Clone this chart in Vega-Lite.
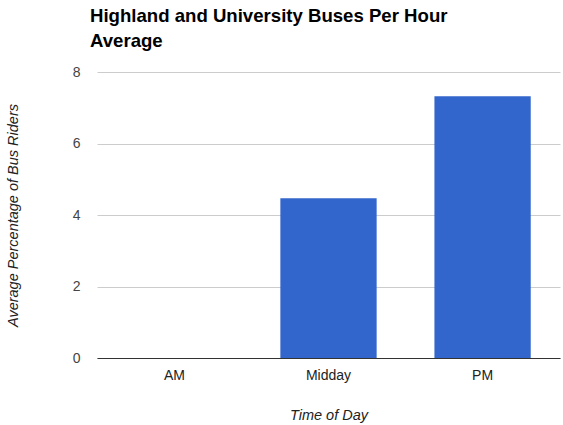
{
  "$schema": "https://vega.github.io/schema/vega-lite/v6.json",
  "autosize": "none",
  "width": 463,
  "height": 286,
  "padding": {"left": 97, "top": 72, "right": 3, "bottom": 67},
  "background": "white",
  "title": {
    "text": ["Highland and University Buses Per Hour", "Average"],
    "anchor": "start",
    "frame": "group",
    "font": "Liberation Sans",
    "fontSize": 18.6,
    "fontWeight": "bold",
    "color": "#000000",
    "lineHeight": 25,
    "dx": -7,
    "offset": 14
  },
  "config": {"view": {"stroke": null}},
  "data": {"values": [
    {"time": "AM", "value": 0},
    {"time": "Midday", "value": 4.47},
    {"time": "PM", "value": 7.32}
  ]},
  "mark": {"type": "bar", "color": "#3366cc"},
  "encoding": {
    "x": {
      "field": "time", "type": "nominal", "sort": null,
      "scale": {"paddingInner": 0.375, "paddingOuter": 0.19},
      "axis": {
        "title": "Time of Day", "titleFont": "Liberation Sans", "titleFontSize": 14.5,
        "titleFontStyle": "italic", "titleFontWeight": "normal", "titleColor": "#222",
        "titlePadding": 26,
        "labelAngle": 0, "labelFont": "Liberation Sans", "labelFontSize": 14, "labelColor": "#222",
        "labelPadding": 10, "ticks": false, "domainColor": "#333", "domainWidth": 1
      }
    },
    "y": {
      "field": "value", "type": "quantitative",
      "scale": {"domain": [0, 8]},
      "axis": {
        "title": "Average Percentage of Bus Riders", "titleFont": "Liberation Sans", "titleFontSize": 14.5,
        "titleFontStyle": "italic", "titleFontWeight": "normal", "titleColor": "#222",
        "titlePadding": 52,
        "values": [0, 2, 4, 6, 8],
        "labelFont": "Liberation Sans", "labelFontSize": 14, "labelColor": "#444",
        "labelPadding": 17, "ticks": false, "domain": false,
        "gridColor": "#cccccc", "gridWidth": 1
      }
    }
  }
}
